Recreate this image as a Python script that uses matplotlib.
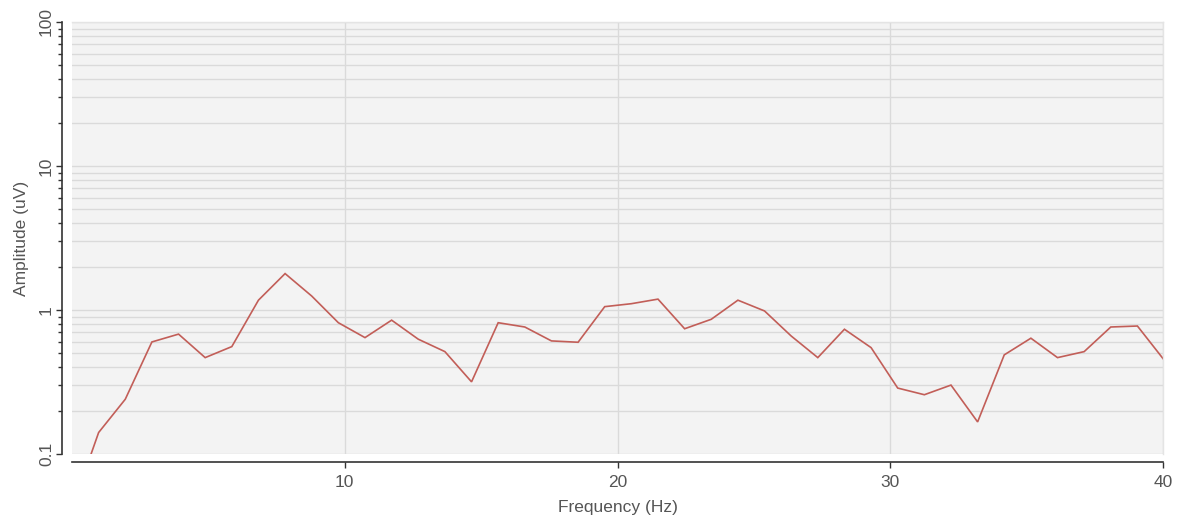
import numpy as np
import matplotlib
matplotlib.use("Agg")
import matplotlib.pyplot as plt
from matplotlib.ticker import LogLocator, FixedLocator, NullFormatter

plt.rcParams["font.family"] = ["Liberation Sans", "DejaVu Sans"]

# ====== SPECTRUM DATA ======
BIN_HZ = 1000.0 / 1024.0
AMPLITUDE_UV = [
    0.042, 0.141, 0.240, 0.600, 0.680, 0.467, 0.557, 1.17, 1.79, 1.25,
    0.816, 0.643, 0.850, 0.627, 0.514, 0.317, 0.816, 0.762, 0.610, 0.597,
    1.055, 1.106, 1.19, 0.741, 0.862, 1.17, 0.985, 0.660, 0.467, 0.735,
    0.548, 0.287, 0.258, 0.301, 0.167, 0.488, 0.637, 0.467, 0.514, 0.762,
    0.774, 0.450,
]
FREQ_HZ = np.arange(len(AMPLITUDE_UV)) * BIN_HZ

X_TICKS = [10, 20, 30, 40]
Y_TICKS = [0.1, 1, 10, 100]
Y_TICK_LABELS = ["0.1", "1", "10", "100"]

W, H = 1185, 526
TXT = "#555555"


def main():
    fig = plt.figure(figsize=(W / 100, H / 100), dpi=100)
    fig.patch.set_facecolor("white")
    ax = fig.add_axes([72 / W, (H - 454) / H, (1163 - 72) / W, (454 - 22) / H])
    ax.set_facecolor("#f3f3f3")

    ax.set_yscale("log")
    ax.set_xlim(0, 40)
    ax.set_ylim(0.1, 100)

    # gridlines: every minor decade step horizontally, 10 Hz vertically
    ax.yaxis.set_major_locator(FixedLocator(Y_TICKS))
    ax.yaxis.set_minor_locator(LogLocator(base=10, subs=np.arange(2, 10)))
    ax.yaxis.set_minor_formatter(NullFormatter())
    ax.set_yticks(Y_TICKS)
    ax.set_yticklabels(Y_TICK_LABELS)
    ax.set_xticks(X_TICKS)
    ax.set_xticklabels([str(t) for t in X_TICKS])

    ax.grid(True, which="both", axis="y", color="#dadada", linewidth=1.0)
    ax.grid(True, which="major", axis="x", color="#dadada", linewidth=1.0)
    ax.set_axisbelow(True)

    ax.plot(FREQ_HZ, AMPLITUDE_UV, color="#c25e58", linewidth=1.2,
            solid_joinstyle="miter")

    for side in ("top", "right"):
        ax.spines[side].set_color("#e4e4e4")
        ax.spines[side].set_linewidth(1.0)
    ax.spines["left"].set_position(("outward", 7))
    ax.spines["bottom"].set_position(("outward", 6))
    for side in ("left", "bottom"):
        ax.spines[side].set_color("#333333")
        ax.spines[side].set_linewidth(1.2)

    ax.tick_params(axis="both", which="major", direction="out", length=4,
                   width=1.0, color="#333333", labelcolor=TXT, labelsize=12.5)
    ax.tick_params(axis="y", which="minor", direction="out", length=3,
                   width=1.0, color="#333333")
    ax.tick_params(axis="y", which="major", pad=2, labelrotation=90)
    ax.tick_params(axis="x", which="major", pad=5)
    for lbl in ax.get_yticklabels():
        lbl.set_va("center")

    ax.set_xlabel("Frequency (Hz)", fontsize=12.5, color=TXT, labelpad=7)
    ax.set_ylabel("Amplitude (uV)", fontsize=12.5, color=TXT, labelpad=7)

    fig.savefig("out.png", dpi=100)


if __name__ == "__main__":
    main()
